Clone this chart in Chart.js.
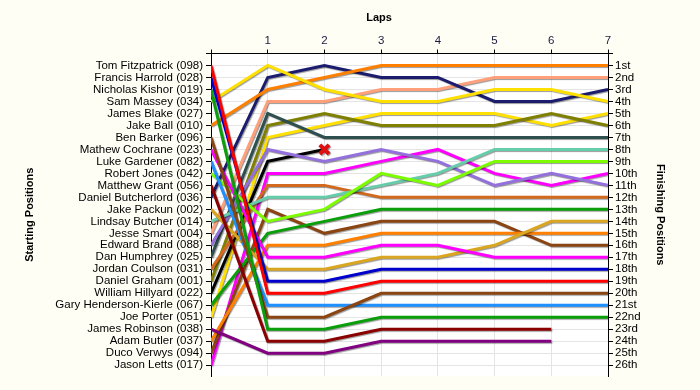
<!DOCTYPE html>
<html>
<head>
<meta charset="utf-8">
<script src="https://cdn.jsdelivr.net/npm/chart.js@4.4.1/dist/chart.umd.min.js"></script>
<style>
  html, body { margin: 0; padding: 0; background: #fffef4; }
  canvas { display: block; }
</style>
</head>
<body>
<canvas id="bump" width="700" height="390"></canvas>
<script>
// laps along the top (0 = starting grid)
const laps = [0, 1, 2, 3, 4, 5, 6, 7];
const lapTicks = ['', '1', '2', '3', '4', '5', '6', '7'];

// starting grid, in order
const startNames = [
  'Tom Fitzpatrick (098)', 'Francis Harrold (028)', 'Nicholas Kishor (019)', 'Sam Massey (034)',
  'James Blake (027)', 'Jake Ball (010)', 'Ben Barker (096)', 'Mathew Cochrane (023)',
  'Luke Gardener (082)', 'Robert Jones (042)', 'Matthew Grant (056)', 'Daniel Butcherlord (036)',
  'Jake Packun (002)', 'Lindsay Butcher (014)', 'Jesse Smart (004)', 'Edward Brand (088)',
  'Dan Humphrey (025)', 'Jordan Coulson (031)', 'Daniel Graham (001)', 'William Hillyard (022)',
  'Gary Henderson-Kierle (067)', 'Joe Porter (051)', 'James Robinson (038)', 'Adam Butler (037)',
  'Duco Verwys (094)', 'Jason Letts (017)'
];

const finishLabels = [
  '1st', '2nd', '3rd', '4th', '5th', '6th', '7th', '8th', '9th', '10th', '11th', '12th', '13th',
  '14th', '15th', '16th', '17th', '18th', '19th', '20th', '21st', '22nd', '23rd', '24th', '25th', '26th'
];

// position at each lap
const fitzpatrick = [1, 20, 20, 19, 19, 19, 19, 19];
const harrold     = [2, 19, 19, 18, 18, 18, 18, 18];
const kishor      = [3, 23, 23, 22, 22, 22, 22, 22];
const massey      = [4, 1, 3, 4, 4, 3, 3, 4];
const blake       = [];
const ball        = [6, 3, 2, 1, 1, 1, 1, 1];
const barker      = [7, 22, 22, 20, 20, 20, 20, 20];
const cochrane    = [8, 17, 17, 16, 16, 17, 17, 17];
const gardener    = [9, 21, 21, 21, 21, 21, 21, 21];
const jones       = [10, 14, 13, 10, 11, 9, 9, 9];
const grant       = [11, 24, 24, 23, 23, 23, 23];
const butcherlord = [12, 2, 1, 2, 2, 4, 4, 3];
const packun      = [13, 18, 18, 17, 17, 16, 14, 14];
const butcher     = [14, 12, 12, 11, 10, 8, 8, 8];
const smart       = [15, 4, 4, 3, 3, 2, 2, 2];
const brand       = [16, 8, 9, 8, 9, 11, 10, 11];
const humphrey    = [17, 5, 7, 7, 7, 7, 7, 7];
const coulson     = [18, 11, 11, 12, 12, 12, 12, 12];
const graham      = [19, 6, 5, 6, 6, 6, 5, 6];
const hillyard    = [20, 9, 8];
const henderson   = [21, 15, 14, 13, 13, 13, 13, 13];
const porter      = [22, 7, 6, 5, 5, 5, 6, 5];
const robinson    = [23, 25, 25, 24, 24, 24, 24];
const butler      = [24, 16, 16, 15, 15, 15, 15, 15];
const verwys      = [25, 13, 15, 14, 14, 14, 16, 16];
const letts       = [26, 10, 10, 9, 8, 10, 11, 10];

const runners = [
  fitzpatrick, harrold, kishor, massey, blake, ball, barker, cochrane, gardener, jones,
  grant, butcherlord, packun, butcher, smart, brand, humphrey, coulson, graham, hillyard,
  henderson, porter, robinson, butler, verwys, letts
];

const colours = [
  '#ff0000', '#0000cd', '#0a9e0a', '#ffe000', '#999999', '#ff8000', '#8b4513', '#ff00ff',
  '#1e90ff', '#7cfc00', '#8b0000', '#1c1c6e', '#daa520', '#66cdaa', '#ffa07a', '#9370db',
  '#2f4f4f', '#d2691e', '#808000', '#000000', '#0a9e0a', '#ffe000', '#800080', '#ff8000',
  '#8b4513', '#ff00ff'
];

const FONT = '"Liberation Sans", Arial, sans-serif';

const datasets = runners.map((pos, i) => ({
  label: startNames[i],
  data: pos.map((p, lap) => ({ x: laps[lap], y: p })),
  borderColor: colours[i],
  backgroundColor: colours[i],
  borderWidth: 3,
  tension: 0,
  fill: false,
  pointRadius: 0
}));

// retired runner gets a red cross at his last lap
const retired = runners.indexOf(hillyard);
datasets[retired].pointRadius = c => (c.dataIndex === hillyard.length - 1 ? 6.5 : 0);
datasets[retired].pointStyle = 'crossRot';
datasets[retired].pointBorderColor = '#e01010';
datasets[retired].pointBorderWidth = 4;

const lineShadow = {
  id: 'lineShadow',
  beforeDatasetDraw(chart) {
    const c = chart.ctx;
    c.save();
    c.shadowColor = 'rgba(0,0,0,0.4)';
    c.shadowOffsetX = 1;
    c.shadowOffsetY = 1;
    c.shadowBlur = 1;
  },
  afterDatasetDraw(chart) {
    chart.ctx.restore();
  }
};

const plotBack = {
  id: 'plotBack',
  beforeDraw(chart) {
    const { ctx, chartArea: a } = chart;
    ctx.save();
    ctx.fillStyle = '#ffffff';
    ctx.fillRect(a.left, a.top, a.right - a.left, a.bottom - a.top);
    ctx.restore();
  }
};

const lapsTitle = {
  id: 'lapsTitle',
  afterDraw(chart) {
    const ctx = chart.ctx;
    ctx.save();
    ctx.font = 'bold 11px ' + FONT;
    ctx.fillStyle = '#000';
    ctx.textAlign = 'center';
    ctx.textBaseline = 'middle';
    ctx.fillText('Laps', 379, 18);
    ctx.restore();
  }
};

const gridColour = '#e4e4e4';

new Chart(document.getElementById('bump').getContext('2d'), {
  type: 'line',
  data: { datasets: datasets },
  plugins: [plotBack, lineShadow, lapsTitle],
  options: {
    responsive: false,
    animation: false,
    layout: { padding: { left: 0, right: 0, top: 0, bottom: 14 } },
    plugins: { legend: { display: false }, tooltip: { enabled: false } },
    scales: {
      x: {
        type: 'linear',
        position: 'top',
        min: 0,
        max: 7,
        afterBuildTicks: s => { s.ticks = laps.map(v => ({ value: v })); },
        afterFit: s => { s.height = 53.5; },
        ticks: {
          callback: v => lapTicks[v],
          color: '#1a1a40',
          font: { family: FONT, size: 11.5 },
          padding: 2,
          maxRotation: 0,
          autoSkip: false
        },
        grid: { color: gridColour, tickColor: '#000', tickLength: 4 },
        border: { color: '#000', width: 1 }
      },
      y: {
        type: 'linear',
        position: 'left',
        reverse: true,
        min: 0,
        max: 26.9,
        afterBuildTicks: s => { s.ticks = [0].concat(startNames.map((n, i) => i + 1)).map(v => ({ value: v })); },
        afterFit: s => { s.width = 211; },
        ticks: {
          callback: v => startNames[v - 1] || '',
          color: '#000',
          font: { family: FONT, size: 11.5 },
          padding: 3,
          autoSkip: false
        },
        grid: { color: gridColour, tickColor: '#000', tickLength: 5 },
        border: { color: '#000', width: 1 },
        title: {
          display: true,
          text: 'Starting Positions',
          color: '#000',
          font: { family: FONT, size: 11, weight: 'bold' },
          padding: { top: 23, bottom: 0 }
        }
      },
      y2: {
        type: 'linear',
        position: 'right',
        reverse: true,
        min: 0,
        max: 26.9,
        afterBuildTicks: s => { s.ticks = [0].concat(finishLabels.map((n, i) => i + 1)).map(v => ({ value: v })); },
        afterFit: s => { s.width = 92; },
        ticks: {
          callback: v => finishLabels[v - 1] || '',
          color: '#000',
          font: { family: FONT, size: 11.5 },
          padding: 2,
          autoSkip: false
        },
        grid: { drawOnChartArea: false, tickColor: '#000', tickLength: 5 },
        border: { color: '#000', width: 1 },
        title: {
          display: true,
          text: 'Finishing Positions',
          color: '#000',
          font: { family: FONT, size: 11, weight: 'bold' },
          padding: { top: 33, bottom: 0 }
        }
      }
    }
  }
});
</script>
</body>
</html>
